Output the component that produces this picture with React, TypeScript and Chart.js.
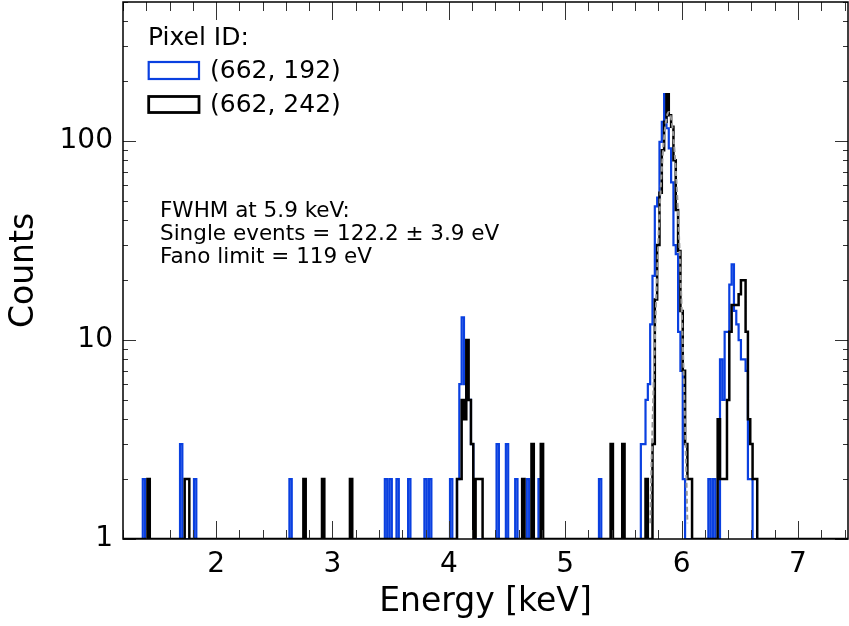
import React, { useEffect, useRef } from 'react';
import { Chart, registerables } from 'chart.js';

Chart.register(...registerables);

// ---------------- data ----------------
const BIN_WIDTH = 0.02; // keV, histogram bin width
const X_MIN = 1.2;
const X_MAX = 7.43;
const Y_MIN = 1;
const Y_MAX = 500;

const xMajorTicks = [2, 3, 4, 5, 6, 7];
const yMajorTicks = [1, 10, 100];

// Pixel (662, 192) – bin centres (keV) and counts (bins with count <= 1 omitted)
const blueEnergies = [
  1.38, 1.70, 1.82, 2.64, 3.46, 3.50, 3.56, 3.66, 3.80, 3.84,
  4.02, 4.08, 4.10, 4.12, 4.14, 4.16, 4.18, 4.20, 4.42, 4.50, 4.58, 4.68, 4.78,
  5.30, 5.66, 5.68, 5.70, 5.72, 5.74, 5.76, 5.78, 5.80, 5.82, 5.84, 5.86, 5.88,
  5.90, 5.92, 5.94, 5.96, 5.98, 6.00, 6.02,
  6.24, 6.28, 6.34, 6.36, 6.38, 6.40, 6.42, 6.44, 6.46, 6.48, 6.50, 6.52, 6.54,
  6.56, 6.58, 6.60,
];
const blueCounts = [
  2, 3, 2, 2, 2, 2, 2, 2, 2, 2,
  2, 2, 6, 13, 6, 5, 5, 3, 3, 3, 2, 2, 2,
  2, 3, 3, 5, 6, 12, 21, 47, 52, 99, 125, 172, 116,
  92, 62, 30, 27, 11, 7, 2,
  2, 2, 8, 5, 11, 11, 19, 24, 14, 12, 10, 8, 8,
  7, 2, 2,
];

// Pixel (662, 242)
const blackEnergies = [
  1.42, 1.74, 1.76, 2.76, 2.92, 3.16,
  4.08, 4.10, 4.12, 4.14, 4.16, 4.18, 4.20, 4.24, 4.26, 4.28,
  4.64, 4.72, 4.80, 5.40, 5.50,
  5.70, 5.76, 5.78, 5.80, 5.82, 5.84, 5.86, 5.88, 5.90, 5.92, 5.94, 5.96, 5.98,
  6.00, 6.02, 6.04, 6.06, 6.08,
  6.32, 6.34, 6.36, 6.38, 6.40, 6.42, 6.44, 6.46, 6.48, 6.50, 6.52, 6.54, 6.56,
  6.58, 6.60, 6.62, 6.64,
];
const blackCounts = [
  2, 2, 2, 2, 2, 2,
  2, 2, 5, 4, 10, 5, 3, 2, 2, 2,
  2, 3, 3, 3, 3,
  2, 3, 16, 30, 55, 90, 125, 172, 135, 118, 80, 45, 28,
  14, 7, 3, 2, 2,
  4, 2, 2, 2, 5, 11, 15, 15, 15, 17, 20, 20, 11,
  4, 3, 2, 2,
];

// Fitted line profile (grey dashed)
const fitEnergies = [
  5.73, 5.74, 5.75, 5.76, 5.77, 5.78, 5.79, 5.80, 5.81, 5.82, 5.83, 5.84, 5.85,
  5.86, 5.87, 5.88, 5.89, 5.90, 5.91, 5.92, 5.93, 5.94, 5.95, 5.96, 5.97, 5.98,
  5.99, 6.00, 6.01, 6.02, 6.03, 6.04, 6.05,
];
const fitCounts = [
  1.2, 2.2, 3.7, 6.1, 9.8, 14.9, 22.0, 31.3, 42.9, 56.6, 71.9, 88.2, 104.1,
  118.5, 130.0, 137.4, 140.0, 137.4, 130.0, 118.5, 104.1, 88.2, 71.9, 56.6, 42.9, 31.3,
  22.0, 14.9, 9.8, 6.1, 3.7, 2.2, 1.2,
];

const legendTitle = 'Pixel ID:';
const seriesLabels = ['(662, 192)', '(662, 242)'];
const seriesColors = ['#0a40e0', '#000000'];
const annotationLines = [
  'FWHM at 5.9 keV:',
  'Single events = 122.2 ± 3.9 eV',
  'Fano limit = 119 eV',
];

const FONT = '"DejaVu Sans", sans-serif';

function buildSteps(energies: number[], counts: number[]) {
  const pts: { x: number; y: number }[] = [{ x: X_MIN, y: Y_MIN }];
  let prevRight = X_MIN;
  for (let i = 0; i < energies.length; i++) {
    const l = energies[i] - BIN_WIDTH / 2;
    const r = energies[i] + BIN_WIDTH / 2;
    if (Math.abs(l - prevRight) > 1e-6) {
      pts.push({ x: prevRight, y: Y_MIN });
      pts.push({ x: l, y: Y_MIN });
    }
    pts.push({ x: l, y: counts[i] });
    pts.push({ x: r, y: counts[i] });
    prevRight = r;
  }
  pts.push({ x: prevRight, y: Y_MIN });
  pts.push({ x: X_MAX, y: Y_MIN });
  return pts;
}

const framePlugin = {
  id: 'frameTicks',
  afterDatasetsDraw(chart: any) {
    const { ctx, chartArea: a, scales } = chart;
    const xs = scales.x;
    const ys = scales.y;
    ctx.save();
    ctx.strokeStyle = '#333';
    ctx.lineWidth = 1;
    ctx.beginPath();
    for (let k = 6; k <= 37; k++) {
      const v = k / 5;
      if (v < X_MIN || v > X_MAX) continue;
      const px = Math.round(xs.getPixelForValue(v)) + 0.5;
      const len = k % 5 === 0 ? 18 : 9;
      ctx.moveTo(px, a.bottom);
      ctx.lineTo(px, a.bottom - len);
      ctx.moveTo(px, a.top);
      ctx.lineTo(px, a.top + len);
    }
    for (const d of [1, 10, 100]) {
      for (let m = 1; m <= 9; m++) {
        const v = m * d;
        if (v < Y_MIN || v > Y_MAX) continue;
        const py = Math.round(ys.getPixelForValue(v)) + 0.5;
        const len = m === 1 ? 13 : 5;
        ctx.moveTo(a.left, py);
        ctx.lineTo(a.left + len, py);
        ctx.moveTo(a.right, py);
        ctx.lineTo(a.right - len, py);
      }
    }
    ctx.stroke();
    ctx.strokeStyle = '#000';
    ctx.lineWidth = 1.5;
    ctx.strokeRect(a.left, a.top, a.right - a.left, a.bottom - a.top);
    ctx.restore();
  },
  afterDraw(chart: any) {
    const { ctx } = chart;
    ctx.save();
    ctx.fillStyle = '#000';
    ctx.textAlign = 'left';
    ctx.textBaseline = 'alphabetic';
    ctx.font = `25px ${FONT}`;
    ctx.fillText(legendTitle, 148, 45);
    const rows = [
      { y: 78, box: [148.7, 62, 50.3, 17], w: 2.2 },
      { y: 111.5, box: [148.7, 96.5, 50.3, 16], w: 2.8 },
    ];
    rows.forEach((r, i) => {
      ctx.strokeStyle = seriesColors[i];
      ctx.lineWidth = r.w;
      ctx.strokeRect(r.box[0], r.box[1], r.box[2], r.box[3]);
      ctx.fillText(seriesLabels[i], 210, r.y);
    });
    ctx.font = `21.5px ${FONT}`;
    annotationLines.forEach((t, i) => {
      ctx.fillText(t, 160, 217 + i * 23);
    });
    ctx.restore();
  },
};

export default function App() {
  const ref = useRef<HTMLCanvasElement>(null);
  useEffect(() => {
    const canvas = ref.current;
    if (!canvas) return;
    const chart = new Chart(canvas, {
      type: 'line',
      data: {
        datasets: [
          {
            label: 'Fit',
            data: fitEnergies.map((e, i) => ({ x: e, y: fitCounts[i] })),
            borderColor: '#9a9a9a',
            borderWidth: 2,
            borderDash: [5, 3],
            pointRadius: 0,
            tension: 0.4,
            order: 0,
          },
          {
            label: seriesLabels[1],
            data: buildSteps(blackEnergies, blackCounts),
            borderColor: seriesColors[1],
            borderWidth: 2.5,
            pointRadius: 0,
            tension: 0,
            order: 1,
          },
          {
            label: seriesLabels[0],
            data: buildSteps(blueEnergies, blueCounts),
            borderColor: seriesColors[0],
            borderWidth: 2.2,
            pointRadius: 0,
            tension: 0,
            order: 2,
          },
        ],
      },
      options: {
        animation: false,
        responsive: false,
        events: [],
        layout: { padding: { top: 2, right: 1, left: 0, bottom: 0 } },
        plugins: { legend: { display: false }, tooltip: { enabled: false } },
        scales: {
          x: {
            type: 'linear',
            min: X_MIN,
            max: X_MAX,
            afterBuildTicks: (s: any) => {
              s.ticks = xMajorTicks.map((v) => ({ value: v }));
            },
            afterFit: (s: any) => {
              s.height = 87;
              s.paddingLeft = 0;
              s.paddingRight = 0;
            },
            grid: { display: false, drawTicks: false },
            border: { display: false },
            ticks: {
              font: { family: FONT, size: 28 },
              color: '#000',
              padding: 9,
              maxRotation: 0,
              autoSkip: false,
              callback: (v: any) => String(v),
            },
            title: {
              display: true,
              text: 'Energy [keV]',
              font: { family: FONT, size: 33 },
              color: '#000',
              padding: { top: 0, bottom: 4 },
            },
          },
          y: {
            type: 'logarithmic',
            min: Y_MIN,
            max: Y_MAX,
            afterBuildTicks: (s: any) => {
              s.ticks = yMajorTicks.map((v) => ({ value: v }));
            },
            afterFit: (s: any) => {
              s.width = 123;
              s.paddingTop = 0;
              s.paddingBottom = 0;
            },
            grid: { display: false, drawTicks: false },
            border: { display: false },
            ticks: {
              font: { family: FONT, size: 28 },
              color: '#000',
              padding: 10,
              autoSkip: false,
              callback: (v: any) => String(v),
            },
            title: {
              display: true,
              text: 'Counts',
              font: { family: FONT, size: 33 },
              color: '#000',
              padding: { top: 5, bottom: 0 },
            },
          },
        },
      } as any,
      plugins: [framePlugin],
    });
    return () => chart.destroy();
  }, []);
  return (
    <div style={{ position: 'absolute', left: 0, top: 0, width: 849, height: 626, background: '#fff' }}>
      <canvas ref={ref} width={849} height={626} style={{ display: 'block' }} />
    </div>
  );
}
